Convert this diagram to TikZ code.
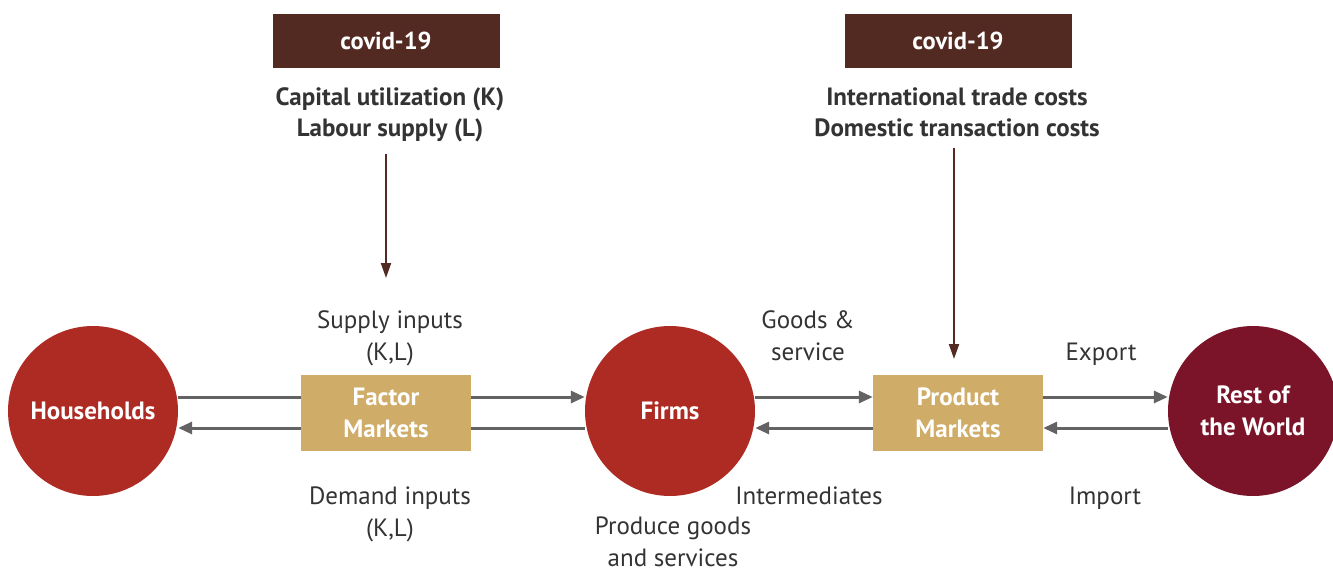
\documentclass[tikz,border=0pt]{standalone}
\usepackage{fontspec}
\setmainfont{PT Sans}
\usetikzlibrary{arrows.meta,calc}
\definecolor{cred}{HTML}{AE2B24}
\definecolor{cmaroon}{HTML}{7B1429}
\definecolor{ctan}{HTML}{CFAC67}
\definecolor{cbrown}{HTML}{532A22}
\definecolor{cgray}{HTML}{636363}
\definecolor{ctext}{HTML}{333333}
\tikzset{
  agent/.style={circle,minimum size=170pt,inner sep=0pt,text=white,font=\fontsize{25}{32}\selectfont\bfseries,align=center},
  market/.style={rectangle,fill=ctan,minimum width=170pt,minimum height=76pt,inner sep=0pt,text=white,font=\fontsize{25}{32}\selectfont\bfseries,align=center},
  covid/.style={rectangle,fill=cbrown,minimum width=227pt,minimum height=54pt,inner sep=0pt,text=white,font=\fontsize{24.5}{28}\selectfont\bfseries},
  shock/.style={text=ctext,font=\fontsize{25}{31}\selectfont\bfseries,align=center,inner sep=0pt},
  lbl/.style={text=ctext,font=\fontsize{25}{32}\selectfont,align=center,inner sep=0pt},
  flow/.style={draw=cgray,line width=3pt},
  flowar/.style={flow,-{Triangle[length=14pt,width=12pt]}},
  impact/.style={draw=cbrown,line width=2pt,-{Triangle[length=15pt,width=10pt]}}
}
\begin{document}
\begin{tikzpicture}[x=1pt,y=-1pt]
\useasboundingbox (0,0) rectangle (1333,572);
% nodes
\node[agent,fill=cred] (hh) at (93,411) {Households};
\node[agent,fill=cred] (fi) at (670,411) {Firms};
\node[agent,fill=cmaroon] (rw) at (1253,411) {Rest of\\the World};
% connectors (drawn before the boxes)
\coordinate (u) at (0,397);
\coordinate (l) at (0,428);
\node[market] (fm) at (386,412.5) {Factor\\Markets};
\node[market] (pm) at (958,412.5) {Product\\Markets};
\draw[flow] (hh.east |- u) -- (fm.west |- u);
\draw[flowar] (fm.east |- u) -- (fi.west |- u);
\draw[flow] (fi.west |- l) -- (fm.east |- l);
\draw[flowar] (fm.west |- l) -- (hh.east |- l);
\draw[flowar] (fi.east |- u) -- (pm.west |- u);
\draw[flowar] (pm.west |- l) -- (fi.east |- l);
\draw[flowar] (pm.east |- u) -- (rw.west |- u);
\draw[flowar] (rw.west |- l) -- (pm.east |- l);
% covid boxes
\node[covid] (c1) at (386,41) {covid-19};
\node[covid] (c2) at (958,41) {covid-19};
\node[shock] (s1) at (390,115) {Capital utilization (K)\\Labour supply (L)};
\node[shock] (s2) at (957,112) {International trade costs\\Domestic transaction costs};
\coordinate (e1) at (386,278);
\coordinate (e2) at (954,359);
\draw[impact] (s1.south -| e1) ++(0,12) -- (e1);
\draw[impact] (s2.south -| e2) ++(0,11) -- (e2);
% labels
\node[lbl] (t1) at (390,338) {Supply inputs\\(K,L)};
\node[lbl] (t2) at (390,514) {Demand inputs\\(K,L)};
\node[lbl] (t3) at (808,336) {Goods \&\\service};
\node[lbl] (t4) at (1101,354) {Export};
\node[lbl] (t5) at (809,496) {Intermediates};
\node[lbl] (t6) at (1105,498) {Import};
\node[lbl] (t7) at (673,542) {Produce goods\\and services};
\end{tikzpicture}
\end{document}
